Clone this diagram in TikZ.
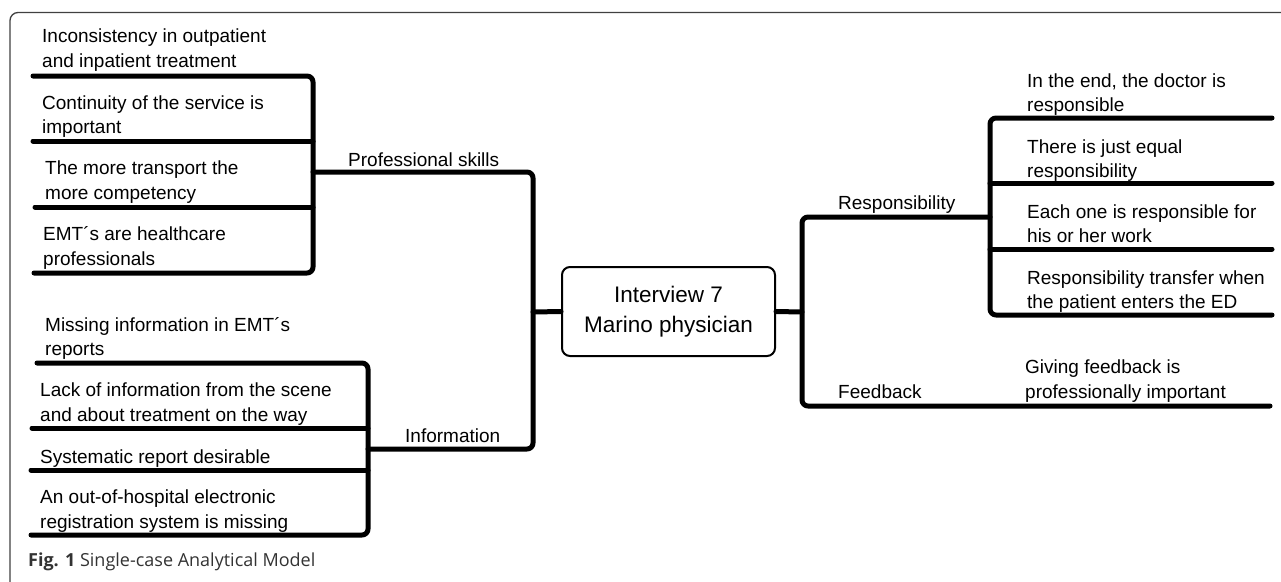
\documentclass[tikz,border=0pt]{standalone}
\usepackage{fontspec}
\setmainfont{Liberation Sans}
\newfontfamily\capfont{Open Sans}
\begin{document}
\begin{tikzpicture}[x=1pt,y=-1pt,
  branch/.style={line width=5pt, line cap=round, line join=round, rounded corners=6pt},
  item/.style={anchor=base west, inner sep=0pt, align=left, font=\fontsize{19}{24.5}\selectfont},
  cat/.style={anchor=base west, inner sep=0pt, font=\fontsize{19}{24.5}\selectfont},
  hub/.style={draw, line width=2pt, rounded corners=8pt, minimum width=213pt, minimum height=89pt, align=center, font=\fontsize{22.5}{30}\selectfont, inner sep=0pt},
  frame/.style={draw=black!75, line width=1.3pt, rounded corners=8pt}]
\useasboundingbox (0,0) rectangle (1281,581);
\clip (0,0) rectangle (1281,581);
% frame
\coordinate (fbl) at (10,600);
\coordinate (ftl) at (10,12.5);
\coordinate (ftr) at (1300,12.5);
\draw[frame] (fbl) -- (ftl) -- (ftr);

% hub
\node[hub] (hub) at (668.5,311.5) {Interview 7\\Marino physician};

% ---------- Professional skills ----------
\coordinate (p1) at (33,76);  \coordinate (p2) at (33,141);
\coordinate (p3) at (35,207); \coordinate (p4) at (34,273);
\coordinate (pb1) at (313,76); \coordinate (pb2) at (313,141);
\coordinate (pb3) at (313,207); \coordinate (pb4) at (313,273);
\coordinate (pJ) at (313,172);
\coordinate (mTop) at (533,172); \coordinate (mBot) at (533,449);
\coordinate (mJ) at (533,312);
\coordinate (iJ) at (368,449);
\draw[branch] (p1) -- (pb1) -- (pb4) -- (p4);
\draw[branch] (p2) -- (pb2);
\draw[branch] (p3) -- (pb3);
\draw[branch] (pJ) -- (mTop) -- (mBot) -- (iJ);
\draw[branch] (mJ) -- (hub.west);

\node[item] (pt1) at (42,67) {Inconsistency in outpatient\\and inpatient treatment};
\node[item] (pt2) at (42,133.5) {Continuity of the service is\\important};
\node[item] (pt3) at (45,199) {The more transport the\\more competency};
\node[item] (pt4) at (43,265) {EMT\textasciiacute s are healthcare\\professionals};
\node[cat] (ps) at (348,166) {Professional skills};

% ---------- Information ----------
\coordinate (i1) at (37,363);  \coordinate (i2) at (32,428);
\coordinate (i3) at (31,470);  \coordinate (i4) at (31,535);
\coordinate (ib1) at (368,363); \coordinate (ib2) at (368,428);
\coordinate (ib3) at (368,470); \coordinate (ib4) at (368,535);
\draw[branch] (i1) -- (ib1) -- (ib4) -- (i4);
\draw[branch] (i2) -- (ib2);
\draw[branch] (i3) -- (ib3);

\node[item] (it1) at (45,355.5) {Missing information in EMT\textasciiacute s\\reports};
\node[item] (it2) at (40,421) {Lack of information from the scene\\and about treatment on the way};
\node[item] (it3) at (40,463) {Systematic report desirable};
\node[item] (it4) at (40,528) {An out-of-hospital electronic\\registration system is missing};
\node[cat] (inf) at (405,442) {Information};

% ---------- Responsibility / Feedback ----------
\coordinate (hR) at (802,312);
\coordinate (rTop) at (802,217); \coordinate (rJ) at (990,217);
\coordinate (rBot) at (802,406); \coordinate (fEnd) at (1270,406);
\draw[branch] (hub.east) -- (hR);
\draw[branch] (rJ) -- (rTop) -- (rBot) -- (fEnd);

\coordinate (r1) at (1272,118); \coordinate (r2) at (1272,183);
\coordinate (r3) at (1272,249); \coordinate (r4) at (1272,315);
\coordinate (rb1) at (990,118); \coordinate (rb2) at (990,183);
\coordinate (rb3) at (990,249); \coordinate (rb4) at (990,315);
\draw[branch] (r1) -- (rb1) -- (rb4) -- (r4);
\draw[branch] (rb2) -- (r2);
\draw[branch] (rb3) -- (r3);

\node[cat] (resp) at (838,209) {Responsibility};
\node[cat] (fb) at (838,398) {Feedback};
\node[item] (rt1) at (1027,111.5) {In the end, the doctor is\\responsible};
\node[item] (rt2) at (1027,177.5) {There is just equal\\responsibility};
\node[item] (rt3) at (1027,242.5) {Each one is responsible for\\his or her work};
\node[item] (rt4) at (1027,308.5) {Responsibility transfer when\\the patient enters the ED};
\node[item] (ft1) at (1025,398) {Giving feedback is\\professionally important};

% caption
\node[anchor=base west, inner sep=0pt, font=\capfont\fontsize{18}{21}\selectfont, text=black!80] (cap) at (28,566) {\textbf{Fig. 1} Single-case Analytical Model};
\end{tikzpicture}
\end{document}
